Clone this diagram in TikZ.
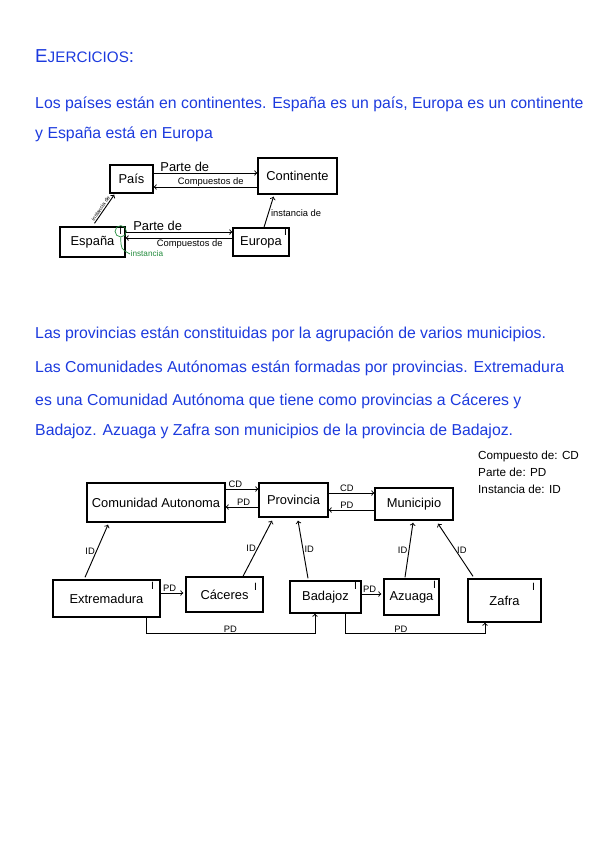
\documentclass[tikz,border=0pt]{standalone}
\usepackage{amsmath,amssymb}
\usepackage{xcolor}
\usepackage{fontspec}
\setmainfont{Liberation Sans}
\usepackage{tikz}

\definecolor{tinta}{RGB}{28,58,222}
\definecolor{verde}{RGB}{34,139,60}

\begin{document}
\begin{tikzpicture}[x=0.3mm, y=-0.3mm,
    caja/.style={draw, line width=1.2pt, inner sep=0pt, font=\fontsize{11}{12}\selectfont},
    flecha/.style={->, line width=0.8pt},
    texto/.style={anchor=base west, inner sep=0pt, text=tinta, font=\fontsize{13.5}{16}\selectfont},
    etiq/.style={inner sep=1pt, font=\fontsize{9}{10}\selectfont},
    sigla/.style={inner sep=1pt, font=\fontsize{8}{9}\selectfont},
    marca/.style={inner sep=0.4pt, font=\fontsize{9}{10}\selectfont}]

    % Fix the size of the page
    \useasboundingbox (0,0) rectangle (600,848);

    % Draw the title and the first statement
    \node[texto, font=\fontsize{16}{18}\selectfont] (titulo) at (35,62) {E{\fontsize{13}{15}\selectfont JERCICIOS}:};
    \node[texto] (linea1) at (35,108) {Los países están en continentes. España es un país, Europa es un continente};
    \node[texto] (linea2) at (35,138) {y España está en Europa};

    % Draw the boxes of the first diagram
    \node[caja, minimum width=12.9mm, minimum height=8.4mm] (pais) at (131.5,179) {País};
    \node[caja, minimum width=23.7mm, minimum height=10.8mm] (continente) at (297.5,176) {Continente};
    \node[caja, minimum width=19.5mm, minimum height=9mm] (espana) at (92.5,242) {España};
    \node[caja, minimum width=16.8mm, minimum height=8.4mm] (europa) at (261,242) {Europa};

    % Draw the instance marks
    \node[marca, draw=verde, circle, line width=0.6pt, minimum size=3.4mm, font=\fontsize{8}{9}\selectfont] (iespana) at ([shift={(-5,5)}]espana.north east) {I};
    \node[marca] (ieuropa) at ([shift={(-4,5)}]europa.north east) {I};
    \node[marca, text=verde, anchor=west, font=\fontsize{7}{8}\selectfont] (nota) at (130,254) {instancia};
    \draw[verde, line width=0.6pt] (iespana.south) .. controls (121,249) .. (nota.west);

    % Draw the relations of the first diagram
    \draw[flecha] ([shift={(0,-6)}]pais.east) -- node[etiq, above, pos=0.3, font=\fontsize{11}{12}\selectfont] (parte1) {Parte de} ([shift={(0,-3)}]continente.west);
    \draw[flecha] ([shift={(0,11)}]continente.west) -- node[etiq, above, pos=0.45, inner sep=0pt, font=\fontsize{8}{9}\selectfont] (comp1) {Compuestos de} ([shift={(0,8)}]pais.east);
    \draw[flecha] ([shift={(0,-10)}]espana.east) -- node[etiq, above, pos=0.3, font=\fontsize{11}{12}\selectfont] (parte2) {Parte de} ([shift={(0,-10)}]europa.west);
    \draw[flecha] ([shift={(0,-4)}]europa.west) -- node[etiq, below, pos=0.4, font=\fontsize{8}{9}\selectfont] (comp2) {Compuestos de} ([shift={(0,-4)}]espana.east);
    \draw[flecha] ([shift={(2,-3)}]espana.north) -- node[above, sloped, pos=0.45, inner sep=0.8pt, font=\fontsize{4.5}{5}\selectfont] (inst1) {instancia de} ([shift={(5,1)}]pais.south west);
    \draw[flecha] ([shift={(3,0)}]europa.north) -- node[right, pos=0.45, inner sep=2pt, font=\fontsize{8}{9}\selectfont] (inst2) {instancia de} ([shift={(-24,2)}]continente.south);

    % Draw the second statement
    \node[texto] (linea3) at (35,338) {Las provincias están constituidas por la agrupación de varios municipios.};
    \node[texto] (linea4) at (35,372) {Las Comunidades Autónomas están formadas por provincias. Extremadura};
    \node[texto] (linea5) at (35,405) {es una Comunidad Autónoma que tiene como provincias a Cáceres y};
    \node[texto] (linea6) at (35,435) {Badajoz. Azuaga y Zafra son municipios de la provincia de Badajoz.};

    % Draw the key of the abbreviations
    \node[anchor=base west, inner sep=0pt, font=\fontsize{10}{12}\selectfont] (clave1) at (478,459) {Compuesto de: CD};
    \node[anchor=base west, inner sep=0pt, font=\fontsize{10}{12}\selectfont] (clave2) at (478,476) {Parte de: PD};
    \node[anchor=base west, inner sep=0pt, font=\fontsize{10}{12}\selectfont] (clave3) at (478,493) {Instancia de: ID};

    % Draw the boxes of the second diagram
    \node[caja, minimum width=41.4mm, minimum height=11.7mm] (comunidad) at (156,502.5) {Comunidad Autonoma};
    \node[caja, minimum width=20.7mm, minimum height=10.2mm] (provincia) at (293.5,500) {Provincia};
    \node[caja, minimum width=23.4mm, minimum height=9.6mm] (municipio) at (414,504) {Municipio};
    \node[caja, minimum width=32.1mm, minimum height=11.1mm] (extremadura) at (106.5,598.5) {Extremadura};
    \node[caja, minimum width=23.1mm, minimum height=10.5mm] (caceres) at (224.5,594.5) {Cáceres};
    \node[caja, minimum width=21.3mm, minimum height=9.6mm] (badajoz) at (325.5,597) {Badajoz};
    \node[caja, minimum width=16.5mm, minimum height=10.8mm] (azuaga) at (411.5,597) {Azuaga};
    \node[caja, minimum width=21.9mm, minimum height=12.9mm] (zafra) at (504.5,600.5) {Zafra};

    % Draw the instance marks
    \node[marca] (iextremadura) at ([shift={(-8,7)}]extremadura.north east) {I};
    \node[marca] (icaceres) at ([shift={(-8,11)}]caceres.north east) {I};
    \node[marca] (ibadajoz) at ([shift={(-6,6)}]badajoz.north east) {I};
    \node[marca] (iazuaga) at ([shift={(-5,7)}]azuaga.north east) {I};
    \node[marca] (izafra) at ([shift={(-8,9)}]zafra.north east) {I};

    % Draw the relations between the classes
    \draw[flecha] ([shift={(0,-13.5)}]comunidad.east) -- node[sigla, above, pos=0.3] (cd1) {CD} ([shift={(0,-11)}]provincia.west);
    \draw[flecha] ([shift={(0,7)}]provincia.west) -- node[sigla, above, pos=0.45] (pd1) {PD} ([shift={(0,4.5)}]comunidad.east);
    \draw[flecha] ([shift={(0,-7)}]provincia.east) -- node[sigla, above, pos=0.4] (cd2) {CD} ([shift={(0,-11)}]municipio.west);
    \draw[flecha] ([shift={(0,6)}]municipio.west) -- node[sigla, above, pos=0.6] (pd2) {PD} ([shift={(0,10)}]provincia.east);

    % Draw the instance relations
    \draw[flecha] ([shift={(-21.5,-2)}]extremadura.north) -- node[sigla, left, pos=0.5] (id1) {ID} ([shift={(-48,2)}]comunidad.south);
    \draw[flecha] ([shift={(18.5,0)}]caceres.north) -- node[sigla, left, pos=0.5] (id2) {ID} ([shift={(-21.5,3)}]provincia.south);
    \draw[flecha] ([shift={(-17.5,-2)}]badajoz.north) -- node[sigla, right, pos=0.5] (id3) {ID} ([shift={(4.5,3)}]provincia.south);
    \draw[flecha] ([shift={(-6.5,-1)}]azuaga.north) -- node[sigla, left, pos=0.5] (id4) {ID} ([shift={(-1,2)}]municipio.south);
    \draw[flecha] ([shift={(-31.5,-2)}]zafra.north) -- node[sigla, right, pos=0.5] (id5) {ID} ([shift={(24,3)}]municipio.south);

    % Draw the part relations between the instances
    \draw[flecha] ([shift={(0,-5.5)}]extremadura.east) -- node[sigla, above, pos=0.4] (pd3) {PD} ([shift={(-2,-1.5)}]caceres.west);
    \draw[flecha] ([shift={(0,-3)}]badajoz.east) -- node[sigla, above, pos=0.4] (pd4) {PD} ([shift={(-2,-3)}]azuaga.west);
    \draw[flecha] ([shift={(39.5,0)}]extremadura.south) -- ++(0,16) -| node[sigla, above, pos=0.25] (pd5) {PD} ([shift={(-10.5,0)}]badajoz.south);
    \draw[flecha] ([shift={(19.5,0)}]badajoz.south) -- ++(0,20) -| node[sigla, above, pos=0.2] (pd6) {PD} ([shift={(-19.5,0)}]zafra.south);
\end{tikzpicture}
\end{document}
